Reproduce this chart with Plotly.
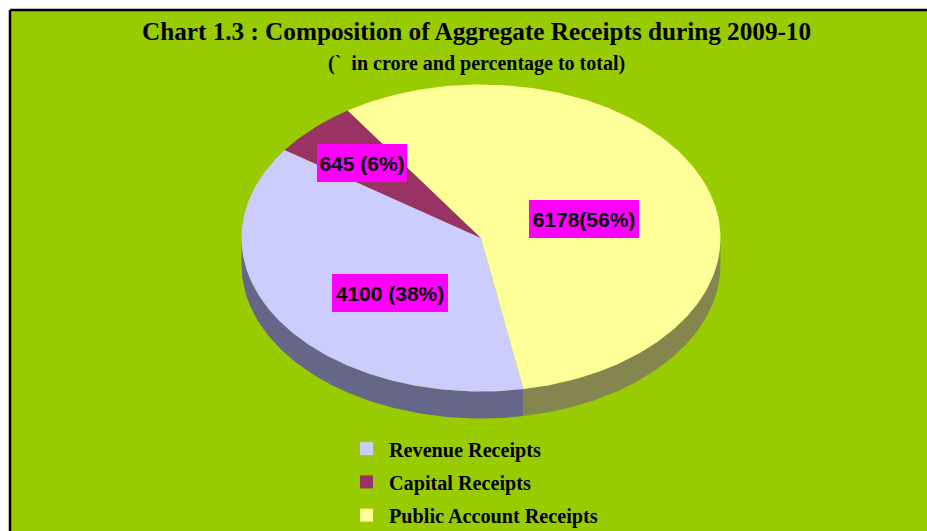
import numpy as np
import plotly.graph_objects as go

categories = ["Revenue Receipts", "Capital Receipts", "Public Account Receipts"]
values = [4100, 645, 6178]
labels = ["4100 (38%)", "645 (6%)", "6178(56%)"]
top_colors = ["#CCCCFF", "#993366", "#FFFF99"]
side_colors = ["#666688", "#4D1A33", "#85854F"]
start_angle = 169.8
# pixel geometry of the tilted disc
W, H = 927, 531
L, T = 10, 10
cx, cy, rx, ry, depth = 481, 238, 239.5, 153.5, 27

def X(p):
    return (p - cx) / rx
def Y(p):
    return (cy - p) / ry

fracs = np.array(values) / sum(values) * 360
fig = go.Figure()
a0 = start_angle
wedges = []
for c, f in zip(top_colors, fracs):
    wedges.append((a0, a0 + f, c))
    a0 += f

d = depth / ry
# side wall, front half only
for (a, b, _), sc in zip(wedges, side_colors):
    for shift in (-360, 0):
        lo, hi = max(a + shift, 90), min(b + shift, 270)
        if hi > lo:
            t = np.radians(np.linspace(lo, hi, 120))
            xs = np.sin(t)
            ys = np.cos(t)
            fig.add_trace(go.Scatter(
                x=np.r_[xs, xs[::-1]], y=np.r_[ys, ys[::-1] - d],
                fill="toself", fillcolor=sc, mode="lines",
                line=dict(width=0, color=sc), showlegend=False, hoverinfo="skip"))
# top face
for (a, b, c) in wedges:
    t = np.radians(np.linspace(a, b, 240))
    fig.add_trace(go.Scatter(
        x=np.r_[0, np.sin(t), 0], y=np.r_[0, np.cos(t), 0],
        fill="toself", fillcolor=c, mode="lines",
        line=dict(width=0, color=c), showlegend=False, hoverinfo="skip"))
# legend entries
for n, c in zip(categories, top_colors):
    fig.add_trace(go.Scatter(
        x=[None], y=[None], mode="markers", name=n, legendgroup=n,
        marker=dict(symbol="square", size=13, color=c)))

label_px = [(390, 293), (362, 163), (584, 218.5)]
label_w = [116, 90, 110]
for t, (px, py), w in zip(labels, label_px, label_w):
    fig.add_annotation(
        x=X(px), y=Y(py), text=t, showarrow=False, bgcolor="#FF00FF",
        width=w, height=38, borderpad=0, borderwidth=0,
        font=dict(family="Liberation Sans", size=21, color="black", weight="bold"))

fig.add_annotation(xref="paper", yref="paper", x=(476.5 - L) / (W - L), y=1 - (32 - T) / (H - T),
                   xanchor="center", yanchor="middle",
                   text="Chart 1.3 : Composition of Aggregate Receipts during 2009-10",
                   showarrow=False, font=dict(family="Liberation Serif", size=25.2, color="black", weight="bold"))
fig.add_annotation(xref="paper", yref="paper", x=(476.5 - L) / (W - L), y=1 - (63 - T) / (H - T),
                   xanchor="center", yanchor="middle",
                   text="(`  in crore and percentage to total)",
                   showarrow=False, font=dict(family="Liberation Serif", size=20, color="black", weight="bold"))

fig.update_layout(
    width=W, height=H, autosize=False,
    margin=dict(l=L, r=0, t=T, b=0, pad=0, autoexpand=False),
    paper_bgcolor="white", plot_bgcolor="#99CC00",
    xaxis=dict(visible=False, range=[X(L), X(W)], fixedrange=True),
    yaxis=dict(visible=False, range=[Y(H), Y(T)], fixedrange=True),
    legend=dict(x=(344 - L) / (W - L), y=-4 / (H - T), xanchor="left", yanchor="bottom",
                bgcolor="rgba(0,0,0,0)", tracegroupgap=4, itemwidth=35, itemclick=False, itemdoubleclick=False,
                font=dict(family="Liberation Serif", size=20.2, color="black", weight="bold")),
    shapes=[dict(type="line", xref="paper", yref="paper", x0=0, x1=0, y0=0, y1=1, line=dict(color="black", width=2.5)),
            dict(type="line", xref="paper", yref="paper", x0=0, x1=1, y0=1, y1=1, line=dict(color="black", width=2.5))],
)
fig.write_html("out.html", config={"displayModeBar": False},
               post_script="document.body.style.margin='0';document.body.style.overflow='hidden';")
